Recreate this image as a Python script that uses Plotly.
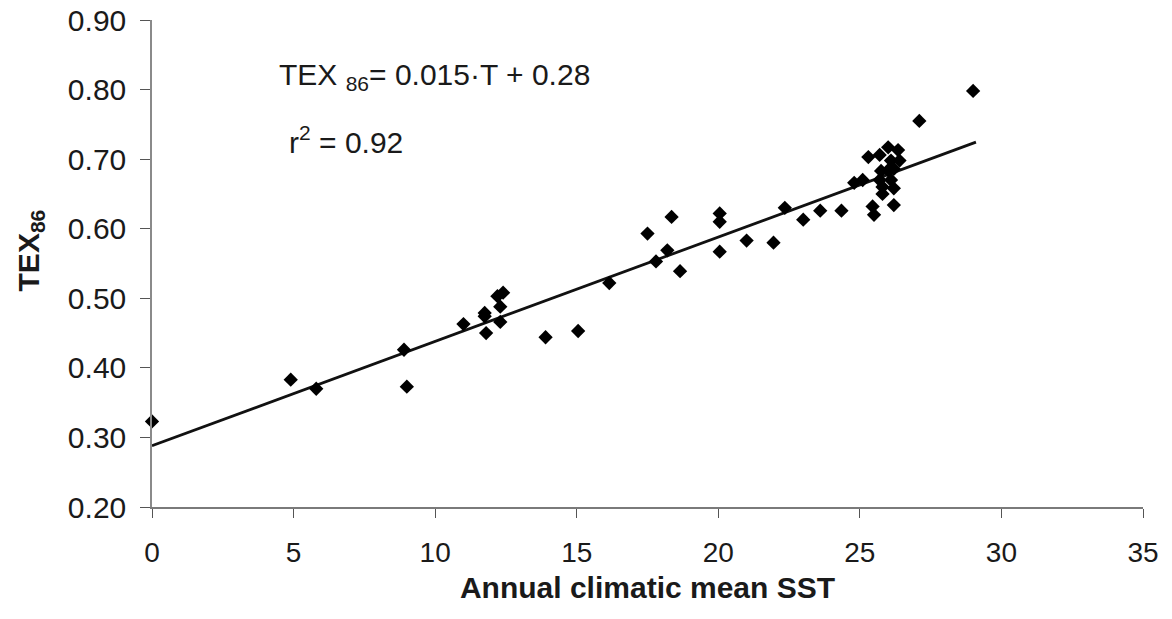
import plotly.graph_objects as go

# Annual climatic mean SST (°C)
sst = [0.0, 4.9, 5.8, 8.9, 9.0, 11.0, 11.75, 11.75, 11.8, 12.2, 12.3, 12.3, 12.4,
       13.9, 15.05, 16.15, 17.5, 17.8, 18.2, 18.35, 18.65, 20.05, 20.05, 20.05,
       21.0, 21.95, 22.35, 23.0, 23.6, 24.35, 24.8, 25.1, 25.3, 25.45, 25.5, 25.7,
       25.75, 25.7, 25.8, 25.8, 26.0, 26.1, 26.0, 26.1, 26.2, 26.2, 26.35, 26.4,
       26.2, 27.1, 29.0]
# TEX86 values
tex86 = [0.323, 0.383, 0.370, 0.426, 0.373, 0.463, 0.479, 0.474, 0.450, 0.503,
         0.488, 0.466, 0.508, 0.444, 0.453, 0.522, 0.593, 0.553, 0.569, 0.617,
         0.539, 0.622, 0.610, 0.567, 0.583, 0.580, 0.630, 0.613, 0.626, 0.626,
         0.666, 0.670, 0.703, 0.632, 0.620, 0.706, 0.683, 0.670, 0.650, 0.660,
         0.717, 0.698, 0.684, 0.670, 0.658, 0.686, 0.713, 0.698, 0.634, 0.755,
         0.798]

# Regression line as drawn
fit_slope = 0.015
fit_intercept = 0.288
fit_x = [0, 29.1]
fit_y = [fit_intercept + fit_slope * v for v in fit_x]

x_ticks = [0, 5, 10, 15, 20, 25, 30, 35]
y_ticks = [0.20, 0.30, 0.40, 0.50, 0.60, 0.70, 0.80, 0.90]

FONT = "Liberation Sans, Arial, sans-serif"

fig = go.Figure()
fig.add_trace(go.Scatter(x=fit_x, y=fit_y, mode="lines",
                         line=dict(color="#111111", width=2.8),
                         showlegend=False, hoverinfo="skip"))
fig.add_trace(go.Scatter(x=sst, y=tex86, mode="markers",
                         marker=dict(symbol="diamond", size=11, color="#000000"),
                         cliponaxis=False, showlegend=False))

fig.update_layout(
    width=1172, height=619,
    margin=dict(l=152, r=29, t=20, b=112),
    paper_bgcolor="white", plot_bgcolor="white",
    font=dict(family=FONT, size=30, color="#1a1a1a"),
    xaxis=dict(range=[0, 35], tickvals=x_ticks, ticktext=[str(v) for v in x_ticks],
               automargin=False,
               showgrid=False, zeroline=False, showline=True, linecolor="#7a7a7a",
               linewidth=1.5, ticks="outside", ticklen=9, tickcolor="#555555",
               tickfont=dict(size=28), ticklabelstandoff=11,
               title=dict(text="<b>Annual climatic mean SST</b>", font=dict(size=30),
                          standoff=10)),
    yaxis=dict(range=[0.2, 0.9], tickvals=y_ticks,
               ticktext=[f"{v:.2f}" for v in y_ticks],
               automargin=False,
               showgrid=False, zeroline=False, showline=True, linecolor="#8a8a8a",
               linewidth=1.5, ticks="outside", ticklen=10, tickcolor="#555555",
               tickfont=dict(size=30), ticklabelstandoff=8),
    annotations=[
        dict(x=-0.123, y=0.527, xref="paper", yref="paper", xanchor="center",
             yanchor="middle", textangle=-90, text="<b>TEX<sub>86</sub></b>",
             showarrow=False, font=dict(size=30)),
        dict(x=4.42, y=0.819, xref="x", yref="y", xanchor="left", yanchor="middle",
             text="TEX <sub>86</sub>= 0.015·T + 0.28", showarrow=False,
             font=dict(size=30)),
        dict(x=4.77, y=0.728, xref="x", yref="y", xanchor="left", yanchor="middle",
             text="r<sup>2</sup> = 0.92", showarrow=False, font=dict(size=30)),
    ],
)

fig.write_html("out.html")
